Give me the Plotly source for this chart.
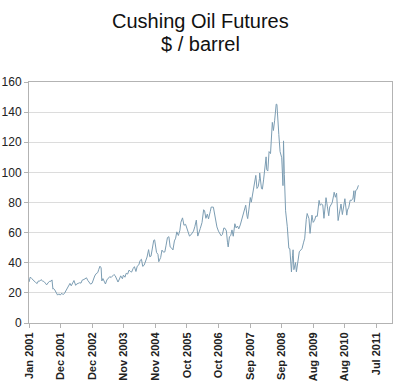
import pandas as pd
import plotly.graph_objects as go

dates = [
 "2001-01-02","2001-01-16","2001-02-01","2001-02-15","2001-03-01","2001-03-15","2001-04-02","2001-04-16",
 "2001-05-01","2001-05-15","2001-06-01","2001-06-15","2001-07-02","2001-07-16","2001-08-01","2001-08-15",
 "2001-09-04","2001-09-14","2001-09-24","2001-10-01","2001-10-15","2001-11-01","2001-11-15","2001-11-30",
 "2001-12-14","2001-12-31",
 "2002-01-15","2002-02-01","2002-02-15","2002-03-01","2002-03-15","2002-04-01","2002-04-15","2002-05-01",
 "2002-05-15","2002-06-03","2002-06-14","2002-07-01","2002-07-15","2002-08-01","2002-08-15","2002-09-03",
 "2002-09-16","2002-10-01","2002-10-15","2002-11-01","2002-11-15","2002-12-02","2002-12-16","2002-12-31",
 "2003-01-15","2003-02-03","2003-02-14","2003-02-27","2003-03-12","2003-03-20","2003-04-01","2003-04-15",
 "2003-04-29","2003-05-15","2003-06-02","2003-06-16","2003-07-01","2003-07-15","2003-08-01","2003-08-15",
 "2003-09-02","2003-09-15","2003-10-01","2003-10-15","2003-11-03","2003-11-14","2003-12-01","2003-12-15",
 "2003-12-31",
 "2004-01-15","2004-02-02","2004-02-13","2004-03-01","2004-03-15","2004-04-01","2004-04-15","2004-05-03",
 "2004-05-17","2004-06-01","2004-06-15","2004-07-01","2004-07-15","2004-08-02","2004-08-19","2004-09-01",
 "2004-09-15","2004-10-01","2004-10-15","2004-10-25","2004-11-01","2004-11-15","2004-12-01","2004-12-10",
 "2004-12-31",
 "2005-01-14","2005-02-01","2005-02-15","2005-03-01","2005-03-16","2005-04-01","2005-04-15","2005-05-02",
 "2005-05-16","2005-06-01","2005-06-15","2005-06-27","2005-07-15","2005-08-01","2005-08-12","2005-08-30",
 "2005-09-15","2005-10-03","2005-10-17","2005-11-01","2005-11-15","2005-12-01","2005-12-15","2005-12-30",
 "2006-01-13","2006-01-30","2006-02-15","2006-03-01","2006-03-15","2006-04-03","2006-04-21","2006-05-01",
 "2006-05-16","2006-06-01","2006-06-14","2006-07-03","2006-07-14","2006-08-07","2006-08-21","2006-09-01",
 "2006-09-15","2006-10-02","2006-10-16","2006-11-01","2006-11-15","2006-12-01","2006-12-15","2006-12-29",
 "2007-01-10","2007-01-18","2007-02-01","2007-02-15","2007-03-01","2007-03-15","2007-04-02","2007-04-16",
 "2007-05-01","2007-05-15","2007-06-01","2007-06-15","2007-07-02","2007-07-16","2007-07-31","2007-08-15",
 "2007-08-22","2007-09-04","2007-09-20","2007-10-01","2007-10-15","2007-11-01","2007-11-20","2007-12-03",
 "2007-12-17","2007-12-31",
 "2008-01-02","2008-01-22","2008-02-01","2008-02-15","2008-03-03","2008-03-13","2008-03-20","2008-04-01",
 "2008-04-15","2008-05-01","2008-05-21","2008-06-02","2008-06-16","2008-07-03","2008-07-11","2008-07-21",
 "2008-08-01","2008-08-15","2008-09-02","2008-09-16","2008-09-22","2008-10-01","2008-10-15","2008-11-03",
 "2008-11-20","2008-12-01","2008-12-19","2008-12-31",
 "2009-01-06","2009-01-15","2009-02-02","2009-02-12","2009-03-02","2009-03-16","2009-04-01","2009-04-15",
 "2009-05-01","2009-05-15","2009-06-01","2009-06-11","2009-07-01","2009-07-13","2009-08-03","2009-08-17",
 "2009-09-01","2009-09-15","2009-10-01","2009-10-21","2009-11-02","2009-11-16","2009-12-01","2009-12-14",
 "2009-12-31",
 "2010-01-06","2010-01-20","2010-02-05","2010-02-16","2010-03-01","2010-03-15","2010-04-01","2010-04-06",
 "2010-04-20","2010-05-03","2010-05-20","2010-06-01","2010-06-21","2010-07-06","2010-07-20","2010-08-03",
 "2010-08-24","2010-09-01","2010-09-15","2010-10-01","2010-10-15","2010-11-01","2010-11-11","2010-11-16",
 "2010-12-01","2010-12-15","2010-12-31",
]

prices = [
 27.2,30.5,29.5,28.5,27.5,27.0,26.2,27.9,
 27.8,28.8,27.9,27.6,26.5,25.3,26.6,27.6,
 27.8,28.6,22.5,22.9,21.9,20.2,18.5,19.4,
 18.5,19.8,
 18.8,19.9,21.5,22.5,24.7,26.3,24.7,26.5,
 28.2,25.0,25.9,26.3,26.7,26.5,28.5,28.9,
 29.7,30.0,28.3,27.0,25.8,26.4,29.3,31.2,
 32.7,33.5,35.6,37.7,36.6,27.9,29.5,28.0,
 25.9,28.6,29.6,30.8,30.2,31.5,32.2,31.4,
 28.9,27.2,29.2,31.3,29.4,31.8,30.4,33.0,
 32.5,
 35.1,34.1,33.8,36.2,37.4,34.2,37.7,38.6,
 41.5,42.3,37.6,38.4,40.8,43.8,48.7,44.0,
 44.4,50.1,54.9,55.2,51.8,46.9,45.5,40.7,
 43.5,
 48.4,47.0,47.2,51.7,56.7,57.3,50.5,49.7,
 48.5,54.5,56.3,60.5,58.1,61.6,66.9,69.8,
 64.9,65.5,63.1,59.8,57.7,58.5,60.2,61.0,
 63.9,68.3,57.7,61.0,62.8,66.7,75.2,74.6,
 69.5,72.3,69.1,73.9,77.0,76.9,71.3,69.2,
 63.8,61.0,59.0,57.9,58.8,63.1,62.8,61.1,
 53.6,50.5,57.3,58.0,61.8,57.6,65.9,63.1,
 64.4,62.5,65.1,68.0,71.1,74.1,78.2,71.0,
 69.3,75.1,83.3,80.2,86.1,93.5,98.0,89.3,
 90.6,96.0,
 99.6,89.2,88.9,95.5,103.0,110.3,101.8,100.9,
 113.8,112.5,133.2,127.8,134.6,145.3,145.1,131.0,
 125.1,113.8,109.7,91.2,120.9,98.5,74.5,63.9,
 49.6,49.3,33.9,44.6,
 48.6,35.4,40.1,34.0,40.2,47.3,48.4,49.4,
 53.2,56.3,68.6,72.7,69.3,59.5,71.6,66.8,
 68.1,71.0,70.8,81.4,78.1,79.1,78.4,69.5,
 79.4,
 83.2,77.6,71.2,77.0,78.7,79.8,84.9,86.8,
 83.5,86.2,68.0,72.6,79.0,72.0,77.0,82.5,
 71.6,75.0,76.8,81.6,81.3,82.9,87.8,80.4,
 88.0,88.6,91.4,
]

title_lines = ["Cushing Oil Futures", "$ / barrel"]
tick_labels = ["Jan 2001","Dec 2001","Dec 2002","Nov 2003","Nov 2004","Oct 2005",
               "Oct 2006","Sep 2007","Sep 2008","Aug 2009","Aug 2010","Jul 2011"]
y_ticks = [0, 20, 40, 60, 80, 100, 120, 140, 160]

start = pd.Timestamp(dates[0])
tick_vals = [start + pd.Timedelta(days=350 * i) for i in range(len(tick_labels))]
x_end = start + pd.Timedelta(days=4022)

W, H = 400, 386
M_L, M_R, M_T, M_B = 29, 8, 82, 63
plot_h = H - M_T - M_B

fig = go.Figure()
fig.add_trace(go.Scatter(
    x=pd.to_datetime(dates), y=prices, mode="lines",
    line=dict(color="#7c9db3", width=1), hoverinfo="skip",
))

for txt, ypix in zip(title_lines, [21, 44]):
    fig.add_annotation(
        text=txt, xref="paper", yref="paper", x=0.5 - (M_L - M_R) / 2 / (W - M_L - M_R),
        y=(H - M_B - ypix) / plot_h, xanchor="center", yanchor="middle",
        showarrow=False, font=dict(size=20, color="#111",
                                   family="Liberation Sans, Arial, sans-serif"),
    )

fig.update_layout(
    width=W, height=H,
    margin=dict(l=M_L, r=M_R, t=M_T, b=M_B),
    paper_bgcolor="white", plot_bgcolor="white",
    showlegend=False,
    font=dict(family="Liberation Sans, Arial, sans-serif", color="#222"),
)
fig.update_xaxes(
    type="date", range=[start, x_end], automargin=False,
    tickmode="array", tickvals=tick_vals, ticktext=[f"<b>{t}</b>" for t in tick_labels],
    tickangle=-90, tickfont=dict(size=11, color="#222"),
    ticks="outside", ticklen=4, tickcolor="#b3b3b3",
    showgrid=False, showline=True, linecolor="#b3b3b3", linewidth=1, mirror=True,
    zeroline=False,
)
fig.update_yaxes(
    range=[0, 160], tickmode="array", tickvals=y_ticks, automargin=False,
    tickfont=dict(size=12, color="#222"),
    ticks="outside", ticklen=4, tickcolor="#b3b3b3",
    showgrid=True, gridcolor="#dcdcdc", gridwidth=1,
    showline=True, linecolor="#b3b3b3", linewidth=1, mirror=True,
    zeroline=False,
)
fig.write_html(
    "out.html",
    config={"displayModeBar": False},
    post_script="document.body.style.margin='0px';document.body.style.padding='0px';",
)
